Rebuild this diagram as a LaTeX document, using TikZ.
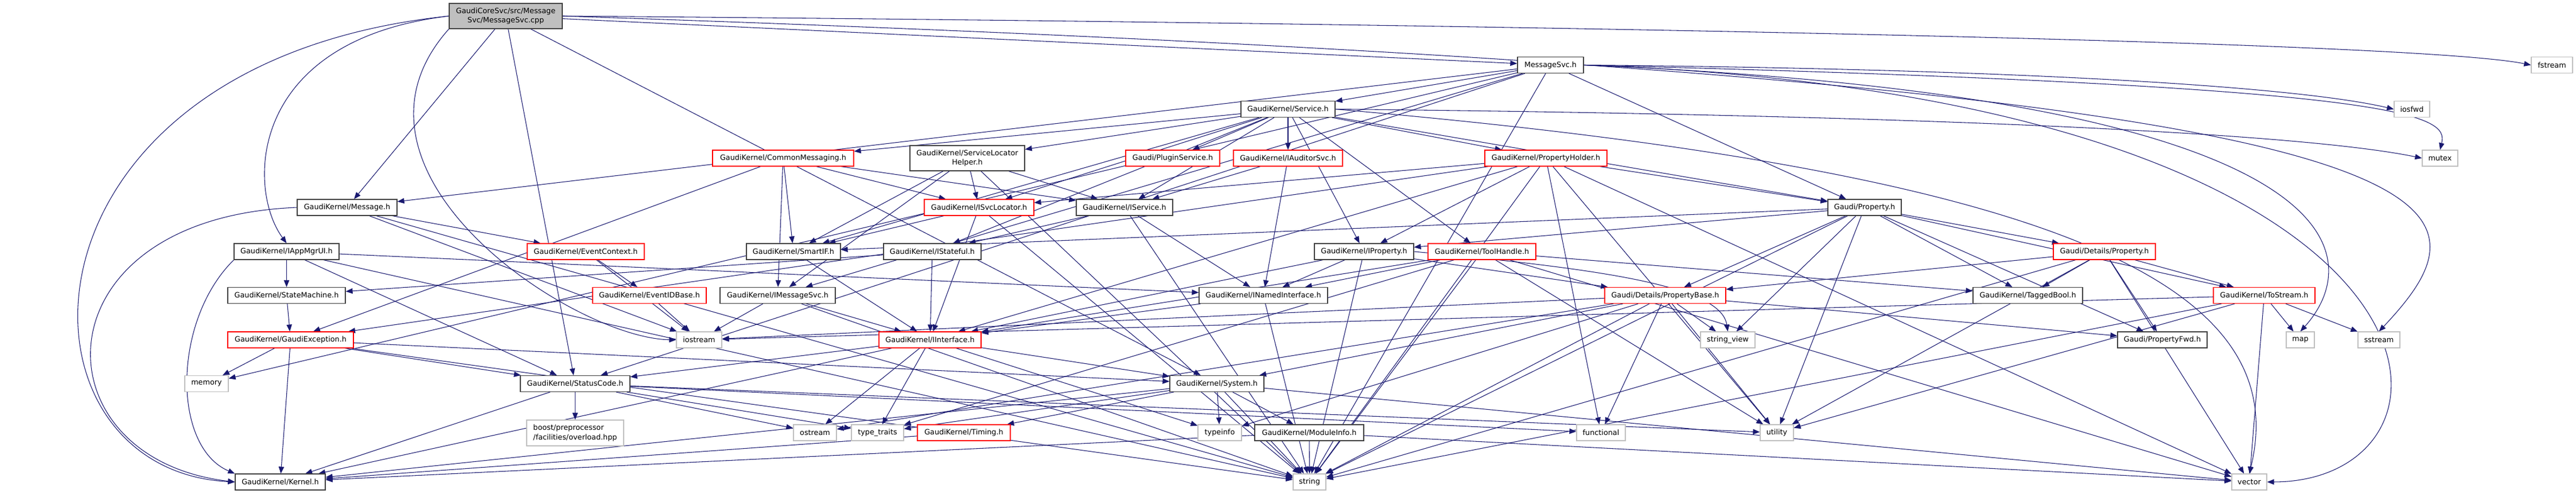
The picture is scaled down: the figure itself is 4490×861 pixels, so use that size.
\documentclass[tikz,border=0pt]{standalone}
\usepackage{fontspec}
\setmainfont{DejaVu Sans}
\usetikzlibrary{arrows.meta}
\definecolor{edgec}{RGB}{25,25,112}
\definecolor{rootc}{RGB}{191,191,191}
\definecolor{sysc}{RGB}{191,191,191}
\definecolor{truncc}{RGB}{255,0,0}
\definecolor{docc}{RGB}{64,64,64}
\pgfdeclarelayer{back}
\pgfsetlayers{back,main}

\begin{document}
\begin{tikzpicture}[x=0.75pt,y=-0.75pt,
    file/.style={fill=white,line width=0.9pt,inner sep=0pt,minimum height=28*0.75pt,
      font=\fontsize{9.6pt}{12.5pt}\selectfont},
    wbox/.style={file,draw=docc,minimum width=#1*0.75pt},
    rbox/.style={file,draw=truncc,minimum width=#1*0.75pt},
    gbox/.style={file,draw=sysc,minimum width=#1*0.75pt},
    dep/.style={edgec,line width=0.8pt,-{Triangle[length=9pt,width=7pt]}}]
  \useasboundingbox (0,0) rectangle (4490,861);

  % rank 0 and 1
  \node[wbox=197,fill=rootc,minimum height=44*0.75pt,align=center] (root) at (881.5,28) {GaudiCoreSvc/src/Message\\Svc/MessageSvc.cpp};
  \node[wbox=115] (msvch) at (2702.5,113.5) {MessageSvc.h};
  \node[gbox=72] (fstream) at (4448,113.5) {fstream};
  \node[wbox=164] (svc) at (2245,190.5) {GaudiKernel/Service.h};
  \node[gbox=62] (iosfwd) at (4204,190.5) {iosfwd};

  \node[rbox=246] (cmsg) at (1365,276) {GaudiKernel/CommonMessaging.h};
  \node[wbox=200,minimum height=44*0.75pt,align=center] (slh) at (1686,276) {GaudiKernel/ServiceLocator\\Helper.h};
  \node[rbox=164] (plugin) at (2044,276) {Gaudi/PluginService.h};
  \node[rbox=190] (iaud) at (2245,276) {GaudiKernel/IAuditorSvc.h};
  \node[rbox=213] (pholder) at (2694.5,276) {GaudiKernel/PropertyHolder.h};
  \node[gbox=62] (mutex) at (4253,276) {mutex};

  \node[wbox=174] (msg) at (605,362) {GaudiKernel/Message.h};
  \node[rbox=191] (isvcloc) at (1706.5,362) {GaudiKernel/ISvcLocator.h};
  \node[wbox=168] (iservice) at (1960,362) {GaudiKernel/IService.h};
  \node[wbox=128] (prop) at (3250,362) {Gaudi/Property.h};

  \node[wbox=183] (iappmgr) at (499.5,439) {GaudiKernel/IAppMgrUI.h};
  \node[rbox=204] (evctx) at (1021,439) {GaudiKernel/EventContext.h};
  \node[wbox=164] (smartif) at (1383,439) {GaudiKernel/SmartIF.h};
  \node[wbox=170] (istateful) at (1625,439) {GaudiKernel/IStateful.h};
  \node[wbox=173] (iprop) at (2377.5,439) {GaudiKernel/IProperty.h};
  \node[rbox=188] (toolh) at (2583,439) {GaudiKernel/ToolHandle.h};
  \node[rbox=178] (dprop) at (3668,439) {Gaudi/Details/Property.h};

  \node[wbox=205] (statem) at (499.5,515.5) {GaudiKernel/StateMachine.h};
  \node[rbox=198] (evid) at (1132,515.5) {GaudiKernel/EventIDBase.h};
  \node[wbox=201] (imsgsvc) at (1355.5,515.5) {GaudiKernel/IMessageSvc.h};
  \node[wbox=224] (inamed) at (2202,515.5) {GaudiKernel/INamedInterface.h};
  \node[rbox=211] (pbase) at (2902.5,515.5) {Gaudi/Details/PropertyBase.h};
  \node[wbox=191] (tbool) at (3534.5,515.5) {GaudiKernel/TaggedBool.h};
  \node[rbox=177] (tostr) at (3946.5,515.5) {GaudiKernel/ToStream.h};

  \node[rbox=219] (gexc) at (506.5,593) {GaudiKernel/GaudiException.h};
  \node[gbox=79] (iostream) at (1218.5,593) {iostream};
  \node[rbox=178] (iiface) at (1621,593) {GaudiKernel/IInterface.h};
  \node[gbox=95] (strview) at (3011.5,593) {string\_view};
  \node[wbox=156] (pfwd) at (3769,593) {Gaudi/PropertyFwd.h};
  \node[gbox=49] (map) at (4009.5,593) {map};
  \node[gbox=73] (sstream) at (4146.5,593) {sstream};

  \node[gbox=76] (memory) at (360,669.5) {memory};
  \node[wbox=191] (sc) at (1002.5,669.5) {GaudiKernel/StatusCode.h};
  \node[wbox=164] (system) at (2121,669.5) {GaudiKernel/System.h};

  \node[gbox=169,minimum height=45*0.75pt,align=left] (boost) at (1002.5,755.5) {boost/preprocessor\\/facilities/overload.hpp};
  \node[gbox=75] (ostream) at (1420.5,755) {ostream};
  \node[gbox=91] (ttraits) at (1529.5,755) {type\_traits};
  \node[rbox=162] (timing) at (1680,755) {GaudiKernel/Timing.h};
  \node[gbox=76] (typeinfo) at (2126,755) {typeinfo};
  \node[wbox=190] (modinfo) at (2282,755) {GaudiKernel/ModuleInfo.h};
  \node[gbox=85] (functional) at (2790.5,755) {functional};
  \node[gbox=58] (utility) at (3097,755) {utility};

  \node[wbox=157] (kernel) at (488.5,841) {GaudiKernel/Kernel.h};
  \node[gbox=57] (string) at (2282.5,841) {string};
  \node[gbox=61] (vector) at (3920.5,841) {vector};

  \begin{pgfonlayer}{back}
  % MessageSvc.cpp
  \draw[dep] (root) -- (msvch);
  \draw[dep] (root.east) .. controls (2500,40) and (4200,70) .. (fstream.west);
  \draw[dep] (root.east) .. controls (4360,140) and (4380,330) .. (sstream.north);
  \draw[dep] (root) -- (msg);
  \draw[dep] (root.west) .. controls (430,70) and (430,330) .. (iappmgr.north);
  \draw[dep] (root.west) .. controls (0,110) and (0,820) .. (kernel.west);
  \draw[dep] (root) -- (sc);
  \draw[dep] (root) -- (system);
  \draw[dep] (root.south west) .. controls (560,300) and (1000,590) .. (iostream.west);

  \draw[dep] (msvch) -- (svc);
  \draw[dep] (msvch) -- (prop);
  \draw[dep] (msvch) -- (imsgsvc);
  \draw[dep] (msvch) -- (msg);
  \draw[dep] (msvch) -- (sc);
  \draw[dep] (msvch.east) .. controls (3500,120) and (4000,150) .. (iosfwd.west);
  \draw[dep] (msvch.east) .. controls (4120,170) and (4125,450) .. (map.north);
  \draw[dep] (msvch) -- (memory);
  \draw[dep] (msvch.east) .. controls (4200,150) and (4268,200) .. (mutex.north);
  \draw[dep] (msvch) -- (string);
  \draw[dep] (msvch.east) .. controls (4330,170) and (4340,840) .. (vector.east);

  \draw[dep] (msg) -- (evctx);
  \draw[dep] (msg.west) .. controls (60,380) and (60,800) .. (kernel.west);
  \draw[dep] (msg) -- (string);
  \draw[dep] (msg) -- (iostream);

  \draw[dep] (iappmgr) -- (statem);
  \draw[dep] (iappmgr) -- (inamed);
  \draw[dep] (iappmgr) -- (sc);
  \draw[dep] (iappmgr) -- (string);
  \draw[dep] (iappmgr.south west) .. controls (300,560) and (300,780) .. (kernel.north west);

  \draw[dep] (evctx) -- (evid);
  \draw[dep] (evctx) -- (iostream);
  \draw[dep] (evid) -- (iostream);
  \draw[dep] (statem) -- (gexc);

  \draw[dep] (gexc) -- (memory);
  \draw[dep] (gexc) -- (kernel);
  \draw[dep] (gexc) -- (sc);
  \draw[dep] (gexc) -- (string);
  \draw[dep] (gexc) -- (system);

  % Service.h
  \draw[dep] (svc) -- (cmsg);
  \draw[dep] (svc) -- (slh);
  \draw[dep] (svc) -- (isvcloc);
  \draw[dep] (svc) -- (iservice);
  \draw[dep] (svc) -- (plugin);
  \draw[dep] (svc) -- (iaud);
  \draw[dep] (svc) -- (pholder);
  \draw[dep] (svc) -- (prop);
  \draw[dep] (svc) -- (iprop);
  \draw[dep] (svc) -- (toolh);
  \draw[dep] (svc) -- (smartif);
  \draw[dep] (svc) -- (istateful);
  \draw[dep] (svc.east) .. controls (3300,200) and (4000,230) .. (mutex.west);
  \draw[dep] (svc.east) .. controls (3600,300) and (4000,500) .. (vector.north);

  \draw[dep] (cmsg) -- (imsgsvc);
  \draw[dep] (cmsg) -- (isvcloc);
  \draw[dep] (cmsg) -- (iservice);
  \draw[dep] (cmsg) -- (smartif);
  \draw[dep] (cmsg) -- (gexc);

  \draw[dep] (slh) -- (isvcloc);
  \draw[dep] (slh) -- (iservice);
  \draw[dep] (slh) -- (smartif);
  \draw[dep] (slh) -- (imsgsvc);
  \draw[dep] (slh) -- (string);

  \draw[dep] (iaud) -- (iservice);
  \draw[dep] (iaud) -- (inamed);

  \draw[dep] (pholder) -- (prop);
  \draw[dep] (pholder) -- (iprop);
  \draw[dep] (pholder) -- (isvcloc);
  \draw[dep] (pholder) -- (iiface);
  \draw[dep] (pholder) -- (gexc);
  \draw[dep] (pholder) -- (string);
  \draw[dep] (pholder) -- (functional);
  \draw[dep] (pholder) -- (utility);
  \draw[dep] (pholder) -- (vector);

  \draw[dep] (isvcloc) -- (smartif);
  \draw[dep] (isvcloc) -- (iiface);
  \draw[dep] (isvcloc) -- (string);

  \draw[dep] (iservice) -- (inamed);
  \draw[dep] (iservice) -- (istateful);
  \draw[dep] (iservice) -- (string);

  % Gaudi/Property.h
  \draw[dep] (prop) -- (pbase);
  \draw[dep] (prop) -- (dprop);
  \draw[dep] (prop) -- (tbool);
  \draw[dep] (prop) -- (tostr);
  \draw[dep] (prop) -- (pfwd);
  \draw[dep] (prop) -- (iprop);
  \draw[dep] (prop) -- (smartif);
  \draw[dep] (prop) -- (string);
  \draw[dep] (prop) -- (strview);
  \draw[dep] (prop) -- (utility);

  \draw[dep] (iprop) -- (inamed);
  \draw[dep] (iprop) -- (pbase);
  \draw[dep] (iprop) -- (iiface);
  \draw[dep] (iprop) -- (string);
  \draw[dep] (iprop.east) .. controls (2800,470) and (3000,500) .. (strview.north);

  \draw[dep] (toolh) -- (inamed);
  \draw[dep] (toolh) -- (tbool);
  \draw[dep] (toolh) -- (string);
  \draw[dep] (toolh) -- (utility);
  \draw[dep] (toolh) -- (vector);
  \draw[dep] (toolh) -- (iiface);
  \draw[dep] (toolh) -- (ttraits);

  \draw[dep] (smartif) -- (iiface);
  \draw[dep] (istateful) -- (iiface);
  \draw[dep] (istateful) -- (statem);

  \draw[dep] (imsgsvc) -- (iostream);
  \draw[dep] (imsgsvc) -- (iiface);
  \draw[dep] (imsgsvc) -- (string);

  \draw[dep] (inamed) -- (iiface);
  \draw[dep] (inamed) -- (string);

  \draw[dep] (iiface) -- (system);
  \draw[dep] (iiface) -- (kernel);
  \draw[dep] (iiface) -- (sc);
  \draw[dep] (iiface) -- (ostream);
  \draw[dep] (iiface) -- (ttraits);
  \draw[dep] (iiface) -- (typeinfo);

  \draw[dep] (pbase) -- (strview);
  \draw[dep] (pbase) -- (utility);
  \draw[dep] (pbase) -- (string);
  \draw[dep] (pbase) -- (functional);
  \draw[dep] (pbase) -- (pfwd);
  \draw[dep] (pbase) -- (iostream);
  \draw[dep] (pbase) -- (system);
  \draw[dep] (pbase) -- (ostream);
  \draw[dep] (pbase) -- (typeinfo);

  \draw[dep] (dprop) -- (tbool);
  \draw[dep] (dprop) -- (tostr);
  \draw[dep] (dprop) -- (pfwd);
  \draw[dep] (dprop) -- (pbase);
  \draw[dep] (dprop) -- (string);
  \draw[dep] (dprop) -- (utility);
  \draw[dep] (dprop) -- (vector);

  \draw[dep] (tostr) -- (map);
  \draw[dep] (tostr) -- (sstream);
  \draw[dep] (tostr) -- (vector);
  \draw[dep] (tostr) -- (string);
  \draw[dep] (tostr) -- (iostream);
  \draw[dep] (tostr) -- (utility);

  % StatusCode.h, System.h
  \draw[dep] (sc) -- (boost);
  \draw[dep] (sc) -- (kernel);
  \draw[dep] (sc) -- (ostream);
  \draw[dep] (sc) -- (ttraits);
  \draw[dep] (sc) -- (utility);
  \draw[dep] (sc) -- (functional);

  \draw[dep] (system) -- (kernel);
  \draw[dep] (system) -- (timing);
  \draw[dep] (system) -- (typeinfo);
  \draw[dep] (system) -- (modinfo);
  \draw[dep] (system) -- (string);
  \draw[dep] (system) -- (vector);
  \draw[dep] (system) -- (ttraits);

  \draw[dep] (timing) -- (kernel);
  \draw[dep] (modinfo) -- (string);
  \draw[dep] (modinfo) -- (kernel);
  \draw[dep] (modinfo) -- (vector);
  \end{pgfonlayer}
\end{tikzpicture}
\end{document}
